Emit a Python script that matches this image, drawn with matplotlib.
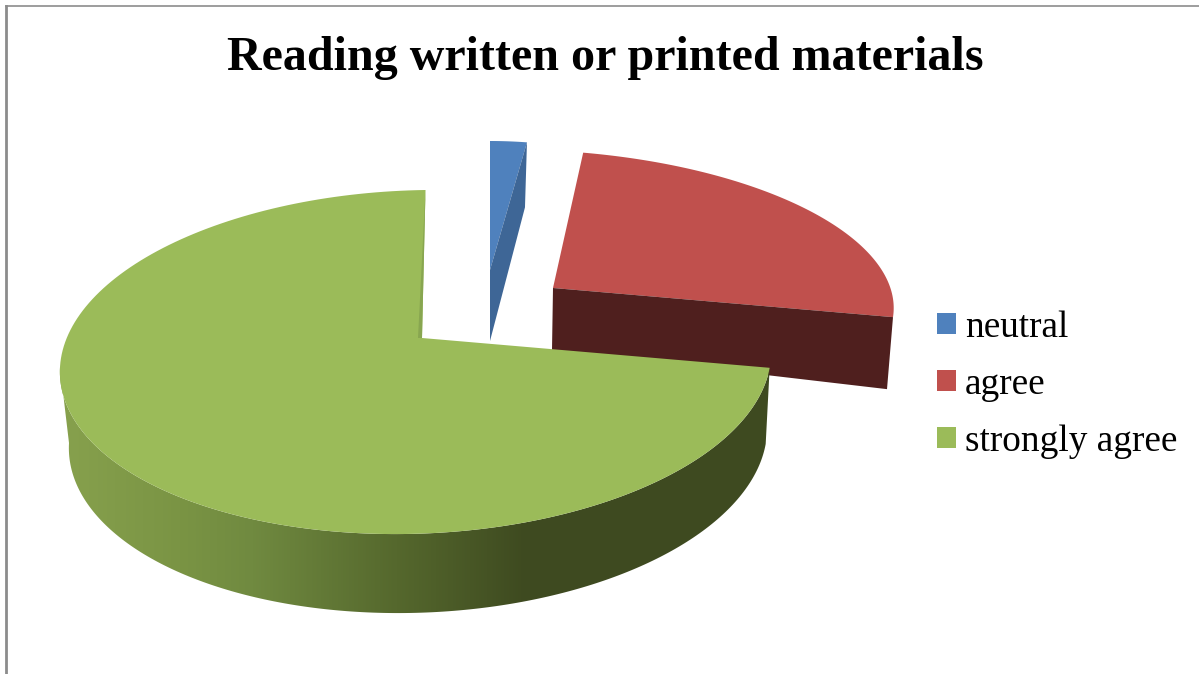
import matplotlib
matplotlib.use('Agg')
import matplotlib.pyplot as plt
from matplotlib.patches import Patch, Polygon
from matplotlib.colors import LinearSegmentedColormap
import numpy as np

plt.rcParams['font.family'] = ['Liberation Serif', 'DejaVu Serif']

title = 'Reading written or printed materials'
labels = ['neutral', 'agree', 'strongly agree']
values = [2, 24, 74]

top_colors = ['#4f81bd', '#c0504d', '#9bbb59']
side_colors = ['#3e6696', '#4f1f1e', '#88a650']

# pixel layout of each exploded slice: rim centre, radii, x shear and y tilt from the perspective
centers = [(490, 313), (538.7, 296), (415.5, 362)]
radii = [(295, 172), (355, 146), (355.5, 172)]
shear = [0, 0, 10]
tilt = [0, -12, 5]
apexes = [(490, 270), (553, 288), (422, 338)]
apex_drop = [(0, 71), (-1, 62), (-4, 0)]
rim_drop = [(-2, 65), (-6, 72), (0, 0)]

# lower rim of the big slice
base_center = (418, 438)
base_radius = (349, 175)

green_stops = [(0.0, '#88a24e'), (0.18, '#7a9444'), (0.28, '#708a40'), (0.48, '#55682d'), (0.66, '#3e4a20'), (1.0, '#3f4b21')]


def arc(center, radius, t0, t1, s=0, k=0, n=200):
    # angles are clockwise from 12 o'clock, y axis points down
    t = np.radians(np.linspace(t0, t1, n))
    x = center[0] + radius[0]*np.sin(t) + s*np.cos(t)
    y = center[1] - radius[1]*np.cos(t) - k*np.sin(t)
    return np.column_stack((x, y))


fig = plt.figure(figsize=(11.99, 6.74), dpi=100)
ax = fig.add_axes([0, 0, 1, 1])
ax.set_xlim(0, 1199)
ax.set_ylim(674, 0)
ax.axis('off')

# chart frame, only top and left are in view
ax.plot([6, 1199], [6, 6], color='#8c8c8c', lw=1.2, zorder=1)
ax.plot([6, 6], [6, 674], color='#8c8c8c', lw=2, zorder=1)

ends = np.cumsum(values) / np.sum(values) * 360
starts = np.r_[0, ends[:-1]]

# neutral
rim = arc(centers[0], radii[0], starts[0], ends[0], shear[0], tilt[0])
ax.add_patch(Polygon(np.vstack((rim, apexes[0])), fc=top_colors[0], ec='none', zorder=2))
ax.add_patch(Polygon([rim[-1], rim[-1] + rim_drop[0], np.add(apexes[0], apex_drop[0]), apexes[0]],
                     fc=side_colors[0], ec='none', zorder=3))

# agree
rim = arc(centers[1], radii[1], starts[1], ends[1], shear[1], tilt[1])
ax.add_patch(Polygon(np.vstack((rim, apexes[1])), fc=top_colors[1], ec='none', zorder=4))
ax.add_patch(Polygon([apexes[1], rim[-1], rim[-1] + rim_drop[1], np.add(apexes[1], apex_drop[1])],
                     fc=side_colors[1], ec='none', zorder=5))

# strongly agree, outer wall has a horizontal gradient
rim = arc(centers[2], radii[2], starts[2], ends[2], shear[2], tilt[2])
wall_top = arc(centers[2], radii[2], starts[2], 270, shear[2], tilt[2])
wall_bottom = arc(base_center, base_radius, starts[2], 270, shear[2], tilt[2])
wall = Polygon(np.vstack((wall_top, wall_bottom[::-1])), fc='none', ec='none', zorder=6)
ax.add_patch(wall)
cmap = LinearSegmentedColormap.from_list('wall', green_stops)
img = ax.imshow(np.linspace(0, 1, 512)[None, :], cmap=cmap, aspect='auto',
                extent=(wall_top[:, 0].min() - 10, wall_top[:, 0].max() + 2, 674, 0), zorder=6)
img.set_clip_path(wall)
ax.set_xlim(0, 1199)
ax.set_ylim(674, 0)
ax.add_patch(Polygon(np.vstack((rim, apexes[2])), fc=top_colors[2], ec='none', zorder=7))
ax.add_patch(Polygon([rim[-1], apexes[2], np.add(apexes[2], apex_drop[2])],
                     fc=side_colors[2], ec='none', zorder=8))

ax.text(605.5, 70, title, fontsize=34.55, fontweight='bold', ha='center', va='baseline', color='black')

handles = [Patch(fc=c, ec='none', label=l) for c, l in zip(top_colors, labels)]
ax.legend(handles=handles, loc='center left', bbox_to_anchor=(937, 384.5), bbox_transform=ax.transData,
          frameon=False, fontsize=26.8, handlelength=0.51, handleheight=0.51, handletextpad=0.24,
          labelspacing=0.6, borderpad=0, borderaxespad=0, labelcolor='black')

fig.savefig('out.png', dpi=100)
plt.close(fig)
